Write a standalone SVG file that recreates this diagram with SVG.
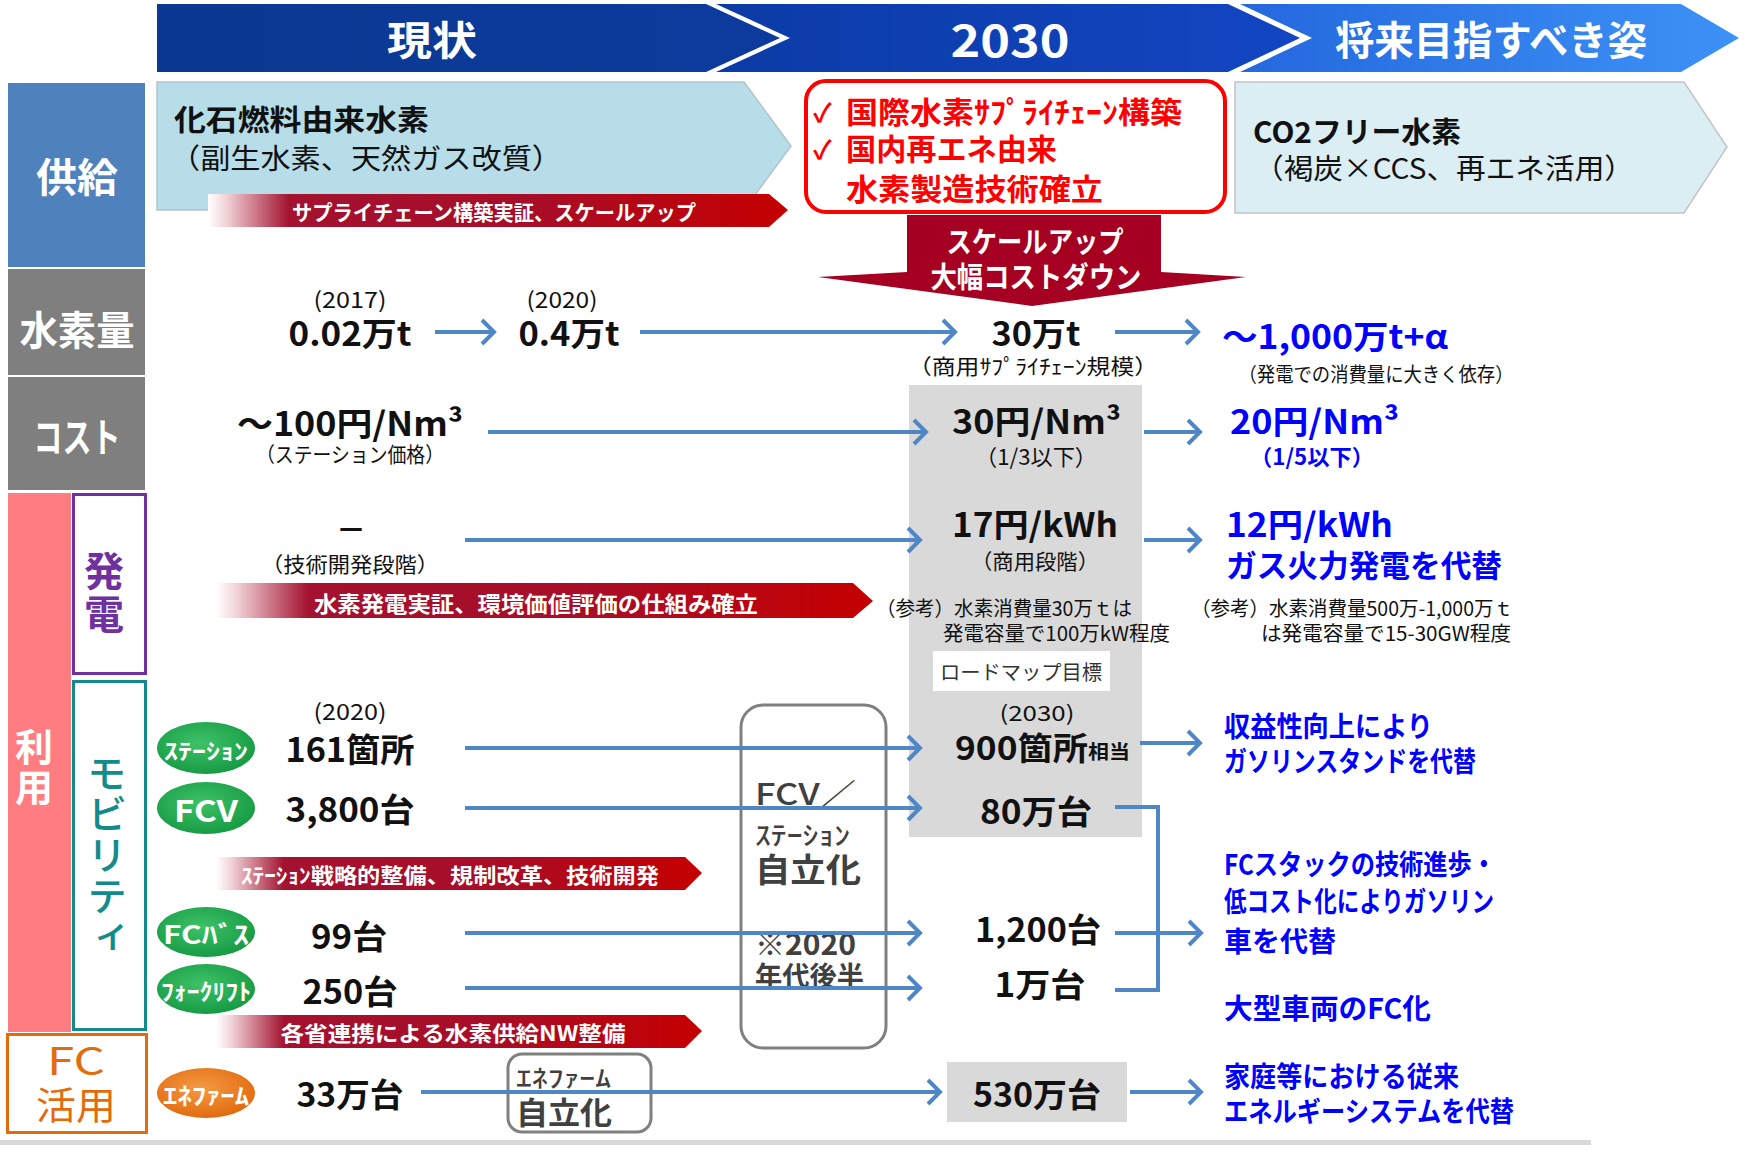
<svg xmlns="http://www.w3.org/2000/svg" width="1759" height="1153" viewBox="0 0 1759 1153">
<style>
  text { font-family: "Noto Sans CJK JP", "Noto Sans", sans-serif; dominant-baseline: central; fill: #111; }
  .c { text-anchor: middle; }
  .e { text-anchor: end; }
  .b { font-weight: 700; }
  .m { font-weight: 500; }
  .w { fill: #fff; }
  .bl { fill: #0000ff; }
  .g4 { fill: #404040; }
  .red { fill: #ff0000; }
  .vert { writing-mode: vertical-rl; text-orientation: mixed; }
  .conn { fill: none; stroke: #4f86c6; stroke-width: 4; }
  .arr { marker-end: url(#ah); }
  .bar { fill: url(#redBar); }
  .pill { fill: url(#green); }
</style>
<defs>
  <linearGradient id="hdrNow" x1="0" y1="0" x2="1" y2="0">
    <stop offset="0" stop-color="#0b3890"/>
    <stop offset="1" stop-color="#0c3b9e"/>
  </linearGradient>
  <linearGradient id="hdr2030" x1="0" y1="0" x2="1" y2="0">
    <stop offset="0" stop-color="#0c3ba6"/>
    <stop offset="1" stop-color="#1246c2"/>
  </linearGradient>
  <linearGradient id="hdrFut" x1="0" y1="0" x2="1" y2="0">
    <stop offset="0" stop-color="#2468de"/>
    <stop offset="1" stop-color="#3d92f6"/>
  </linearGradient>
  <linearGradient id="redBar" x1="0" y1="0" x2="1" y2="0">
    <stop offset="0" stop-color="#ffffff"/>
    <stop offset="0.03" stop-color="#f2d5da"/>
    <stop offset="0.14" stop-color="#a3122f"/>
    <stop offset="0.55" stop-color="#a80d28"/>
    <stop offset="1" stop-color="#c40000"/>
  </linearGradient>
  <radialGradient id="green" cx="0.45" cy="0.4" r="0.65">
    <stop offset="0" stop-color="#3fc266"/>
    <stop offset="1" stop-color="#139843"/>
  </radialGradient>
  <radialGradient id="orange" cx="0.45" cy="0.4" r="0.65">
    <stop offset="0" stop-color="#f59a45"/>
    <stop offset="1" stop-color="#e0680a"/>
  </radialGradient>
  <marker id="ah" markerUnits="userSpaceOnUse" markerWidth="20" markerHeight="28" viewBox="0 0 20 28" refX="16" refY="14" orient="auto">
    <path d="M4,2 L16,14 L4,26" fill="none" stroke="#4f86c6" stroke-width="4"/>
  </marker>
</defs>

<rect x="0" y="0" width="1759" height="1153" fill="#fff"/>

<!-- timeline header chevrons -->
<g id="hdr-now">
  <polygon points="157,4 706,4 780,38 706,72 157,72" fill="url(#hdrNow)"/>
  <text x="432" y="38" class="c b w" font-size="40" textLength="90" lengthAdjust="spacingAndGlyphs">現状</text>
</g>
<g id="hdr-2030">
  <polygon points="716,4 1228,4 1300,38 1228,72 716,72 790,38" fill="url(#hdr2030)"/>
  <text x="1010" y="38" class="c b w" font-size="44" textLength="119" lengthAdjust="spacingAndGlyphs">2030</text>
</g>
<g id="hdr-future">
  <polygon points="1240,4 1681,4 1739,38 1681,72 1240,72 1312,38" fill="url(#hdrFut)"/>
  <text x="1491" y="38" class="c b w" font-size="40" textLength="312" lengthAdjust="spacingAndGlyphs">将来目指すべき姿</text>
</g>

<!-- row categories -->
<g id="cat-supply">
  <rect x="8" y="83" width="137" height="184" fill="#4f81bd"/>
  <text x="77" y="175" class="c b w" font-size="40" textLength="82" lengthAdjust="spacingAndGlyphs">供給</text>
</g>
<g id="cat-amount">
  <rect x="8" y="269" width="137" height="106" fill="#7f7f7f"/>
  <text x="77" y="328" class="c b w" font-size="40" textLength="115" lengthAdjust="spacingAndGlyphs">水素量</text>
</g>
<g id="cat-cost">
  <rect x="8" y="377" width="137" height="113" fill="#7f7f7f"/>
  <text x="77" y="435" class="c b w" font-size="40" textLength="87" lengthAdjust="spacingAndGlyphs">コスト</text>
</g>
<g id="cat-use">
  <rect x="8" y="493" width="63" height="539" fill="#ff7c80"/>
  <text x="34" y="728" class="vert b w" font-size="38" letter-spacing="2">利用</text>
</g>
<g id="cat-power">
  <rect x="73.5" y="494.5" width="72" height="179" fill="#fff" stroke="#7030a0" stroke-width="3"/>
  <text x="104" y="551" class="vert b" font-size="40" letter-spacing="3" style="fill:#7030a0">発電</text>
</g>
<g id="cat-mobility">
  <rect x="73.5" y="681.5" width="72" height="348" fill="#fff" stroke="#138b8b" stroke-width="3"/>
  <text x="107" y="753" class="vert m" font-size="40" letter-spacing="1" style="fill:#138b8b">モビリティ</text>
</g>
<g id="cat-fc">
  <rect x="7.5" y="1034.5" width="139" height="98" fill="#fff" stroke="#e36c0a" stroke-width="3"/>
  <text x="76" y="1058" class="c" font-size="38" style="fill:#e36c0a" textLength="58" lengthAdjust="spacingAndGlyphs">FC</text>
  <text x="76" y="1102" class="c" font-size="38" style="fill:#e36c0a" textLength="80" lengthAdjust="spacingAndGlyphs">活用</text>
</g>

<!-- supply row -->
<g id="supply-now">
  <polygon points="157,82 744,82 791,146 744,210 157,210" fill="#b7dde8" stroke="#b0c4cc" stroke-width="1.5"/>
  <text x="174" y="118" class="b" font-size="29" textLength="255" lengthAdjust="spacingAndGlyphs">化石燃料由来水素</text>
  <text x="170" y="157" font-size="28" textLength="392" lengthAdjust="spacingAndGlyphs">（副生水素、天然ガス改質）</text>
</g>
<g id="bar-supplychain">
  <polygon class="bar" points="208,194 769,194 788,210 769,227 208,227"/>
  <text x="494" y="211" class="c b w" font-size="21" textLength="404" lengthAdjust="spacingAndGlyphs">サプライチェーン構築実証、スケールアップ</text>
</g>
<g id="supply-2030">
  <rect x="806" y="81" width="419" height="131" rx="20" fill="#fff" stroke="#ff0000" stroke-width="4"/>
  <text x="813" y="110" class="b red" font-size="26">✓</text>
  <text x="846" y="110" class="b red" font-size="30" textLength="336" lengthAdjust="spacingAndGlyphs">国際水素ｻﾌﾟﾗｲﾁｪｰﾝ構築</text>
  <text x="813" y="147" class="b red" font-size="26">✓</text>
  <text x="846" y="147" class="b red" font-size="30" textLength="211" lengthAdjust="spacingAndGlyphs">国内再エネ由来</text>
  <text x="846" y="187" class="b red" font-size="30" textLength="257" lengthAdjust="spacingAndGlyphs">水素製造技術確立</text>
</g>
<g id="supply-future">
  <polygon points="1235,82 1684,82 1727,147 1684,213 1235,213" fill="#dbeef4" stroke="#c4c4c4" stroke-width="1.5"/>
  <text x="1253" y="130" class="b" font-size="29" textLength="208" lengthAdjust="spacingAndGlyphs">CO2フリー水素</text>
  <text x="1254" y="167" font-size="28" textLength="380" lengthAdjust="spacingAndGlyphs">（褐炭×CCS、再エネ活用）</text>
</g>
<g id="arrow-scaleup">
  <polygon points="907,215 1161,215 1161,272 1246,277 1032,306 818,277 907,272" fill="#a50021"/>
  <text x="1035" y="240" class="c b w" font-size="29" textLength="177" lengthAdjust="spacingAndGlyphs">スケールアップ</text>
  <text x="1036" y="275" class="c b w" font-size="29" textLength="211" lengthAdjust="spacingAndGlyphs">大幅コストダウン</text>
</g>

<!-- hydrogen amount row -->
<g id="amt-2017">
  <text x="350" y="298" class="c" font-size="22" textLength="73" lengthAdjust="spacingAndGlyphs">(2017)</text>
  <text x="350" y="332" class="c b" font-size="33" textLength="123" lengthAdjust="spacingAndGlyphs">0.02万t</text>
</g>
<g id="amt-2020">
  <text x="562" y="298" class="c" font-size="22" textLength="71" lengthAdjust="spacingAndGlyphs">(2020)</text>
  <text x="569" y="332" class="c b" font-size="33" textLength="101" lengthAdjust="spacingAndGlyphs">0.4万t</text>
</g>
<g id="amt-2030">
  <text x="1036" y="332" class="c b" font-size="33" textLength="89" lengthAdjust="spacingAndGlyphs">30万t</text>
  <text x="1033" y="365" class="c" font-size="21" textLength="250" lengthAdjust="spacingAndGlyphs">（商用ｻﾌﾟﾗｲﾁｪｰﾝ規模）</text>
</g>
<g id="amt-future">
  <text x="1222" y="335" class="b bl" font-size="33" textLength="226" lengthAdjust="spacingAndGlyphs">～1,000万t+α</text>
  <text x="1376" y="373" class="c" font-size="20" textLength="275" lengthAdjust="spacingAndGlyphs">（発電での消費量に大きく依存）</text>
</g>

<!-- 2030 target panel -->
<g id="panel-2030">
  <rect x="909" y="385" width="233" height="452" fill="#d9d9d9"/>
  <rect x="933" y="651" width="177" height="40" fill="#fff"/>
  <text x="1021" y="671" class="c" font-size="20" style="fill:#333" textLength="162" lengthAdjust="spacingAndGlyphs">ロードマップ目標</text>
</g>

<!-- cost row -->
<g id="cost-now">
  <text x="237" y="422" class="b" font-size="33" textLength="226" lengthAdjust="spacingAndGlyphs">～100円/Nm³</text>
  <text x="350" y="453" class="c" font-size="21" textLength="188" lengthAdjust="spacingAndGlyphs">（ステーション価格）</text>
</g>
<g id="cost-2030">
  <text x="952" y="420" class="b" font-size="33" textLength="169" lengthAdjust="spacingAndGlyphs">30円/Nm³</text>
  <text x="1036" y="455" class="c" font-size="22" textLength="122" lengthAdjust="spacingAndGlyphs">（1/3以下）</text>
</g>
<g id="cost-future">
  <text x="1230" y="420" class="b bl" font-size="33" textLength="169" lengthAdjust="spacingAndGlyphs">20円/Nm³</text>
  <text x="1312" y="455" class="c b bl" font-size="22" textLength="124" lengthAdjust="spacingAndGlyphs">（1/5以下）</text>
</g>

<!-- power generation row -->
<g id="power-now">
  <text x="351" y="527" class="c b" font-size="30">－</text>
  <text x="350" y="563" class="c" font-size="21" textLength="178" lengthAdjust="spacingAndGlyphs">（技術開発段階）</text>
</g>
<g id="bar-power">
  <polygon class="bar" points="216,583 853,583 873,601 853,618 216,618"/>
  <text x="536" y="602" class="c b w" font-size="22" textLength="444" lengthAdjust="spacingAndGlyphs">水素発電実証、環境価値評価の仕組み確立</text>
</g>
<g id="power-2030">
  <text x="952" y="523" class="b" font-size="33" textLength="166" lengthAdjust="spacingAndGlyphs">17円/kWh</text>
  <text x="1035" y="560" class="c" font-size="21" textLength="128" lengthAdjust="spacingAndGlyphs">（商用段階）</text>
  <text x="876" y="607" font-size="20" textLength="256" lengthAdjust="spacingAndGlyphs">（参考）水素消費量30万ｔは</text>
  <text x="943" y="632" font-size="20" textLength="227" lengthAdjust="spacingAndGlyphs">発電容量で100万kW程度</text>
</g>
<g id="power-future">
  <text x="1226" y="523" class="b bl" font-size="33" textLength="167" lengthAdjust="spacingAndGlyphs">12円/kWh</text>
  <text x="1226" y="563" class="b bl" font-size="31" textLength="276" lengthAdjust="spacingAndGlyphs">ガス火力発電を代替</text>
  <text x="1191" y="607" font-size="20" textLength="322" lengthAdjust="spacingAndGlyphs">（参考）水素消費量500万-1,000万ｔ</text>
  <text x="1511" y="632" class="e" font-size="20" textLength="250" lengthAdjust="spacingAndGlyphs">は発電容量で15-30GW程度</text>
</g>

<!-- mobility rows -->
<g id="mob-year">
  <text x="350" y="710" class="c" font-size="22" textLength="73" lengthAdjust="spacingAndGlyphs">(2020)</text>
</g>
<g id="mob-station">
  <ellipse class="pill" cx="206" cy="748" rx="49" ry="26"/>
  <text x="206" y="749" class="c b w" font-size="22" textLength="84" lengthAdjust="spacingAndGlyphs">ｽﾃｰｼｮﾝ</text>
  <text x="350" y="748" class="c b" font-size="33" textLength="129" lengthAdjust="spacingAndGlyphs">161箇所</text>
</g>
<g id="mob-fcv">
  <ellipse class="pill" cx="206" cy="808" rx="49" ry="26"/>
  <text x="206" y="809" class="c b w" font-size="30" textLength="64" lengthAdjust="spacingAndGlyphs">FCV</text>
  <text x="350" y="808" class="c b" font-size="33" textLength="129" lengthAdjust="spacingAndGlyphs">3,800台</text>
</g>
<g id="bar-station">
  <polygon class="bar" points="216,857 685,857 702,873 685,890 216,890"/>
  <text x="450" y="874" class="c b w" font-size="21" textLength="418" lengthAdjust="spacingAndGlyphs">ｽﾃｰｼｮﾝ戦略的整備、規制改革、技術開発</text>
</g>
<g id="mob-bus">
  <ellipse class="pill" cx="206" cy="932" rx="49" ry="25"/>
  <text x="206" y="933" class="c b w" font-size="25" textLength="86" lengthAdjust="spacingAndGlyphs">FCﾊﾞｽ</text>
  <text x="349" y="935" class="c b" font-size="33" textLength="76" lengthAdjust="spacingAndGlyphs">99台</text>
</g>
<g id="mob-forklift">
  <ellipse class="pill" cx="206" cy="989" rx="49" ry="25"/>
  <text x="206" y="990" class="c b w" font-size="23" textLength="90" lengthAdjust="spacingAndGlyphs">ﾌｫｰｸﾘﾌﾄ</text>
  <text x="350" y="990" class="c b" font-size="33" textLength="95" lengthAdjust="spacingAndGlyphs">250台</text>
</g>
<g id="bar-network">
  <polygon class="bar" points="216,1015 685,1015 702,1031 685,1048 216,1048"/>
  <text x="453" y="1032" class="c b w" font-size="21" textLength="345" lengthAdjust="spacingAndGlyphs">各省連携による水素供給NW整備</text>
</g>
<g id="fc-enefarm">
  <ellipse cx="206" cy="1093" rx="49" ry="25" fill="url(#orange)"/>
  <text x="206" y="1094" class="c b w" font-size="23" textLength="86" lengthAdjust="spacingAndGlyphs">ｴﾈﾌｧｰﾑ</text>
  <text x="350" y="1093" class="c b" font-size="33" textLength="107" lengthAdjust="spacingAndGlyphs">33万台</text>
</g>

<!-- independence milestones -->
<g id="milestone-fcv">
  <rect x="741" y="705" width="145" height="343" rx="22" fill="#fff" stroke="#808080" stroke-width="3"/>
  <text x="755" y="792" class="m g4" font-size="30" textLength="101" lengthAdjust="spacingAndGlyphs">FCV／</text>
  <text x="755" y="833" class="m g4" font-size="26" textLength="95" lengthAdjust="spacingAndGlyphs">ｽﾃｰｼｮﾝ</text>
  <text x="755" y="868" class="b g4" font-size="33" textLength="106" lengthAdjust="spacingAndGlyphs">自立化</text>
  <text x="755" y="942" class="b g4" font-size="30" textLength="101" lengthAdjust="spacingAndGlyphs">※2020</text>
  <text x="755" y="975" class="b g4" font-size="28" textLength="109" lengthAdjust="spacingAndGlyphs">年代後半</text>
</g>
<g id="milestone-enefarm">
  <rect x="508" y="1054" width="143" height="78" rx="14" fill="none" stroke="#808080" stroke-width="3"/>
  <text x="516" y="1076" class="m g4" font-size="24" textLength="95" lengthAdjust="spacingAndGlyphs">ｴﾈﾌｧｰﾑ</text>
  <text x="516" y="1110" class="b g4" font-size="31" textLength="96" lengthAdjust="spacingAndGlyphs">自立化</text>
</g>

<!-- 2030 mobility / FC targets -->
<g id="mob-2030">
  <text x="1037" y="712" class="c" font-size="21" textLength="75" lengthAdjust="spacingAndGlyphs">(2030)</text>
  <text x="955" y="746" class="b" font-size="32" textLength="175" lengthAdjust="spacingAndGlyphs">900箇所<tspan font-size="19" dy="4">相当</tspan></text>
  <text x="1036" y="810" class="c b" font-size="33" textLength="112" lengthAdjust="spacingAndGlyphs">80万台</text>
  <text x="1038" y="928" class="c b" font-size="33" textLength="126" lengthAdjust="spacingAndGlyphs">1,200台</text>
  <text x="1040" y="983" class="c b" font-size="33" textLength="91" lengthAdjust="spacingAndGlyphs">1万台</text>
</g>
<g id="fc-2030">
  <rect x="947" y="1062" width="180" height="60" fill="#d9d9d9"/>
  <text x="1037" y="1093" class="c b" font-size="33" textLength="128" lengthAdjust="spacingAndGlyphs">530万台</text>
</g>

<!-- long-term goals -->
<g id="goal-station">
  <text x="1224" y="725" class="b bl" font-size="28" textLength="209" lengthAdjust="spacingAndGlyphs">収益性向上により</text>
  <text x="1224" y="760" class="b bl" font-size="28" textLength="252" lengthAdjust="spacingAndGlyphs">ガソリンスタンドを代替</text>
</g>
<g id="goal-vehicle">
  <text x="1224" y="863" class="b bl" font-size="28" textLength="272" lengthAdjust="spacingAndGlyphs">FCスタックの技術進歩・</text>
  <text x="1224" y="900" class="b bl" font-size="28" textLength="270" lengthAdjust="spacingAndGlyphs">低コスト化によりガソリン</text>
  <text x="1224" y="940" class="b bl" font-size="28" textLength="112" lengthAdjust="spacingAndGlyphs">車を代替</text>
  <text x="1224" y="1007" class="b bl" font-size="28" textLength="207" lengthAdjust="spacingAndGlyphs">大型車両のFC化</text>
</g>
<g id="goal-home">
  <text x="1224" y="1075" class="b bl" font-size="28" textLength="235" lengthAdjust="spacingAndGlyphs">家庭等における従来</text>
  <text x="1224" y="1110" class="b bl" font-size="28" textLength="290" lengthAdjust="spacingAndGlyphs">エネルギーシステムを代替</text>
</g>

<!-- connectors -->
<g id="connectors">
  <line class="conn arr" x1="435" y1="332" x2="494" y2="332"/>
  <line class="conn arr" x1="640" y1="332" x2="955" y2="332"/>
  <line class="conn arr" x1="1115" y1="332" x2="1198" y2="332"/>
  <line class="conn arr" x1="488" y1="432" x2="926" y2="432"/>
  <line class="conn arr" x1="1144" y1="432" x2="1200" y2="432"/>
  <line class="conn arr" x1="465" y1="540" x2="920" y2="540"/>
  <line class="conn arr" x1="1144" y1="540" x2="1200" y2="540"/>
  <line class="conn arr" x1="465" y1="748" x2="920" y2="748"/>
  <line class="conn arr" x1="1140" y1="743" x2="1200" y2="743"/>
  <line class="conn arr" x1="465" y1="808" x2="920" y2="808"/>
  <line class="conn arr" x1="465" y1="933" x2="920" y2="933"/>
  <line class="conn arr" x1="465" y1="988" x2="920" y2="988"/>
  <polyline class="conn" points="1115,807 1158,807 1158,990 1115,990"/>
  <line class="conn arr" x1="1115" y1="933" x2="1201" y2="933"/>
  <line class="conn arr" x1="421" y1="1092" x2="940" y2="1092"/>
  <line class="conn arr" x1="1130" y1="1092" x2="1201" y2="1092"/>
</g>

<rect x="0" y="1140" width="1591" height="5" fill="#d9d9d9"/>
</svg>
